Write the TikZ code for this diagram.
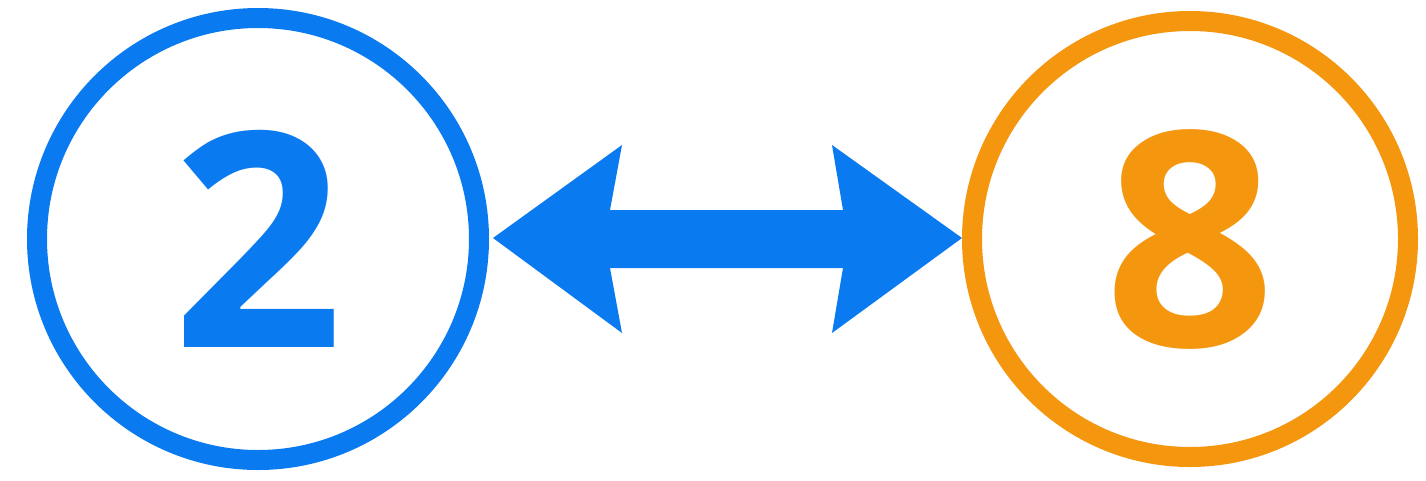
\documentclass[tikz,border=0pt]{standalone}
\usepackage{fontspec}
\setmainfont{Open Sans}
\usetikzlibrary{calc}
\definecolor{cblue}{RGB}{10,122,240}
\definecolor{corange}{RGB}{245,150,15}
\begin{document}
\begin{tikzpicture}[x=1pt,y=-1pt,
  ring/.style={circle,draw=#1,line width=20pt,minimum size=442pt,inner sep=0pt,
    text=#1,font=\fontsize{300}{300}\selectfont\bfseries}]
\fill[white] (0,0) rectangle (1426,480);
\useasboundingbox (0,0) rectangle (1426,480);
\node[ring=cblue] (a) at (258,239) {2};
\node[ring=corange,minimum size=436pt] (b) at (1190,239) {8};
\coordinate (tl) at ($(a.east)+(4,-1)$);
\coordinate (tr) at ($(b.west)+(0,-1)$);
\fill[cblue] (tl) -- ($(tl)+(129,-93)$) -- ($(tl)+(117,-28)$)
  -- ($(tr)+(-119,-28)$) -- ($(tr)+(-130,-93)$) -- (tr)
  -- ($(tr)+(-130,95)$) -- ($(tr)+(-119,30)$)
  -- ($(tl)+(117,30)$) -- ($(tl)+(129,95)$) -- cycle;
\end{tikzpicture}
\end{document}
